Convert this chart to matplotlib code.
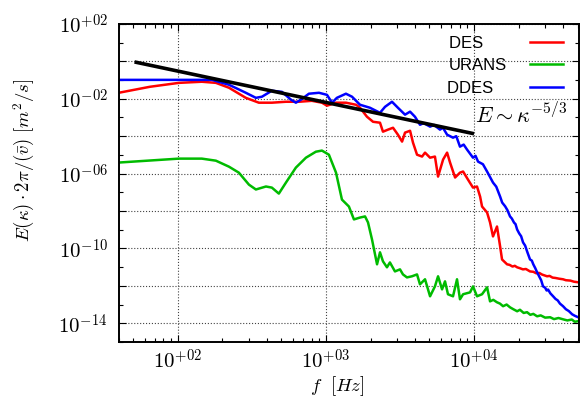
import numpy as np
import matplotlib
matplotlib.use("Agg")
import matplotlib.pyplot as plt
from matplotlib.ticker import FixedLocator, NullFormatter, FuncFormatter, LogLocator

plt.rcParams['mathtext.fontset'] = 'cm'

# ---- data (log10 f [Hz], log10 E) ----
log_f_ddes = [1.601, 2.230, 2.345, 2.459, 2.527, 2.568, 2.635, 2.703, 2.764, 2.797,
              2.831, 2.885, 2.953, 3.007, 3.041, 3.074, 3.135, 3.176, 3.230, 3.297,
              3.365, 3.399, 3.446, 3.486, 3.534, 3.568, 3.601, 3.635, 3.660, 3.703,
              3.730, 3.770, 3.790, 3.818, 3.858, 3.880, 3.905, 3.930, 3.953, 3.993,
              4.010, 4.027, 4.060, 4.088, 4.128, 4.150, 4.176, 4.190, 4.210, 4.225,
              4.243, 4.255, 4.270, 4.280, 4.291, 4.305, 4.318, 4.331, 4.345, 4.360,
              4.378, 4.390, 4.400, 4.413, 4.426, 4.440, 4.453, 4.466, 4.480, 4.490,
              4.500, 4.515, 4.534, 4.550, 4.565, 4.580, 4.601, 4.620, 4.640, 4.662,
              4.680, 4.703]
log_E_ddes = [-0.99, -0.99, -1.25, -1.68, -1.95, -1.89, -1.57, -1.63, -2.05, -2.21,
              -2.05, -1.73, -1.68, -1.79, -2.21, -1.95, -1.73, -1.89, -2.32, -2.48,
              -2.75, -2.43, -2.16, -2.48, -2.85, -2.69, -2.96, -3.39, -3.30, -3.49,
              -3.40, -3.65, -3.55, -3.92, -4.08, -4.00, -4.56, -4.45, -4.72, -5.15,
              -5.05, -5.36, -5.50, -5.89, -6.48, -6.70, -7.23, -7.55, -7.75, -7.95,
              -8.29, -8.40, -8.62, -8.70, -8.99, -9.20, -9.35, -9.68, -9.85, -10.20,
              -10.59, -10.65, -10.85, -11.05, -11.28, -11.50, -11.70, -12.03, -12.10, -12.25,
              -12.20, -12.40, -12.56, -12.70, -12.78, -12.95, -13.09, -13.25, -13.35, -13.52,
              -13.60, -13.68]

log_f_des = [1.601, 1.811, 2.007, 2.162, 2.257, 2.345, 2.459, 2.547, 2.635, 2.730,
             2.818, 2.905, 2.973, 3.007, 3.068, 3.135, 3.203, 3.230, 3.277, 3.318,
             3.365, 3.385, 3.419, 3.453, 3.486, 3.514, 3.534, 3.568, 3.588, 3.615,
             3.649, 3.669, 3.703, 3.736, 3.757, 3.791, 3.818, 3.838, 3.872, 3.905,
             3.926, 3.959, 3.993, 4.020, 4.041, 4.054, 4.088, 4.108, 4.128, 4.155,
             4.176, 4.189, 4.223, 4.240, 4.260, 4.275, 4.291, 4.310, 4.330, 4.350,
             4.378, 4.400, 4.420, 4.440, 4.460, 4.493, 4.510, 4.530, 4.550, 4.575,
             4.601, 4.620, 4.650, 4.675, 4.703]
log_E_des = [-1.68, -1.36, -1.15, -1.09, -1.15, -1.41, -1.95, -2.21, -2.21, -2.16,
             -2.16, -2.11, -2.21, -2.37, -2.21, -2.21, -2.32, -2.48, -2.96, -3.23,
             -3.28, -3.76, -3.65, -3.55, -3.92, -4.29, -3.81, -3.71, -4.35, -4.99,
             -5.09, -4.88, -5.15, -5.09, -6.16, -5.25, -4.88, -5.41, -6.21, -5.95,
             -5.89, -6.32, -6.75, -6.69, -7.23, -7.76, -8.08, -8.61, -9.36, -8.83,
             -9.89, -10.59, -10.85, -10.88, -10.97, -10.93, -11.01, -11.06, -11.12, -11.10,
             -11.23, -11.25, -11.33, -11.31, -11.40, -11.49, -11.47, -11.56, -11.58, -11.62,
             -11.65, -11.70, -11.72, -11.78, -11.81]

log_f_urans = [1.601, 2.007, 2.162, 2.257, 2.345, 2.412, 2.480, 2.527, 2.595, 2.635,
               2.682, 2.730, 2.797, 2.865, 2.932, 2.973, 3.020, 3.068, 3.108, 3.155,
               3.189, 3.230, 3.264, 3.284, 3.311, 3.345, 3.365, 3.385, 3.412, 3.432,
               3.466, 3.500, 3.520, 3.547, 3.581, 3.615, 3.635, 3.669, 3.703, 3.736,
               3.757, 3.784, 3.804, 3.824, 3.858, 3.885, 3.905, 3.926, 3.973, 3.993,
               4.020, 4.054, 4.088, 4.108, 4.130, 4.155, 4.175, 4.196, 4.220, 4.243,
               4.265, 4.291, 4.310, 4.335, 4.358, 4.380, 4.400, 4.426, 4.450, 4.480,
               4.514, 4.540, 4.570, 4.601, 4.630, 4.660, 4.680, 4.703]
log_E_urans = [-5.41, -5.20, -5.20, -5.31, -5.63, -5.95, -6.59, -6.85, -6.69, -6.75,
               -7.07, -6.48, -5.68, -5.15, -4.83, -4.77, -4.99, -5.95, -7.39, -7.76,
               -8.45, -8.35, -8.29, -8.61, -9.52, -10.85, -10.21, -10.69, -11.01, -10.75,
               -11.23, -11.12, -11.39, -11.55, -11.49, -11.39, -11.92, -11.65, -12.56, -12.03,
               -11.49, -12.19, -11.76, -12.45, -12.56, -11.65, -12.72, -12.45, -12.35, -12.03,
               -12.56, -12.45, -12.08, -12.83, -12.75, -12.88, -12.95, -13.09, -13.00, -13.15,
               -13.25, -13.36, -13.28, -13.45, -13.41, -13.55, -13.50, -13.63, -13.58, -13.70,
               -13.68, -13.78, -13.72, -13.79, -13.85, -13.80, -13.92, -13.89]

# reference slope line E ~ kappa^(-5/3): endpoints
ref_f = [51.0, 1.0e4]
ref_E = [0.93, 1.35e-4]

series_labels = ['DES', 'URANS', 'DDES']
x_ticks = [1e2, 1e3, 1e4]
y_label_ticks = [1e-14, 1e-10, 1e-6, 1e-2, 1e2]
y_grid_ticks = [1e-14, 1e-12, 1e-10, 1e-8, 1e-6, 1e-4, 1e-2, 1e0, 1e2]
y_minor_ticks = [1e-15, 1e-13, 1e-11, 1e-9, 1e-7, 1e-5, 1e-3, 1e-1, 1e1]

fig = plt.figure(figsize=(5.8, 3.99), dpi=100)
ax = fig.add_axes([0.205, 0.143, 0.793, 0.797])

lw = 1.8
l1, = ax.plot(10 ** np.array(log_f_des), 10 ** np.array(log_E_des), color='#ff0000', lw=lw)
l2, = ax.plot(10 ** np.array(log_f_urans), 10 ** np.array(log_E_urans), color='#00bb00', lw=lw)
l3, = ax.plot(10 ** np.array(log_f_ddes), 10 ** np.array(log_E_ddes), color='#0000ff', lw=lw)
ax.plot(ref_f, ref_E, color='black', lw=2.6, solid_capstyle='butt')

ax.set_xscale('log')
ax.set_yscale('log')
ax.set_xlim(40, 51000)
ax.set_ylim(1e-15, 1e2)

def fmt(v, pos):
    e = int(round(np.log10(v)))
    s = '+' if e >= 0 else '-'
    return r'$10^{%s%02d}$' % (s, abs(e))

def yfmt(v, pos):
    if any(abs(np.log10(v) - np.log10(t)) < 1e-6 for t in y_label_ticks):
        return fmt(v, pos)
    return ''

ax.xaxis.set_major_locator(FixedLocator(x_ticks))
ax.xaxis.set_major_formatter(FuncFormatter(fmt))
ax.xaxis.set_minor_locator(LogLocator(base=10, subs=np.arange(2, 10), numticks=20))
ax.xaxis.set_minor_formatter(NullFormatter())

ax.yaxis.set_major_locator(FixedLocator(y_grid_ticks))
ax.yaxis.set_major_formatter(FuncFormatter(yfmt))
ax.yaxis.set_minor_locator(FixedLocator(y_minor_ticks))
ax.yaxis.set_minor_formatter(NullFormatter())

ax.tick_params(which='both', direction='in', top=True, right=True, labelsize=15)
ax.tick_params(which='major', length=5, width=0.8)
ax.tick_params(which='minor', length=3, width=0.8)
ax.tick_params(axis='x', which='major', pad=5)
ax.tick_params(axis='y', which='major', pad=8)

ax.grid(True, which='major', linestyle=':', color='#444444', lw=0.8)
for s in ax.spines.values():
    s.set_linewidth(1.4)

ax.set_xlabel(r'$f\ \ [Hz]$', fontsize=13.5)
ax.xaxis.set_label_coords(0.474, -0.103)
ax.set_ylabel(r'$E(\kappa)\cdot 2\pi/(\bar{v})\ [m^2/s]$', fontsize=13.5)
ax.yaxis.set_label_coords(-0.178, 0.57)

# legend: labels left-ish, key lines on the right (trailing spaces emulate the original layout)
padded = ['DES     ', 'URANS', 'DDES   ']
leg = ax.legend(handles=[l1, l2, l3], labels=padded, loc='upper right', frameon=False,
                markerfirst=False, prop={'family': 'Liberation Sans', 'size': 12},
                handlelength=1.95, labelspacing=0.45, borderaxespad=0.3,
                handletextpad=1.4, bbox_to_anchor=(0.99, 1.0))

ax.text(0.774, 0.689, r'$E\sim\kappa^{-5/3}$', transform=ax.transAxes, fontsize=16,
        va='baseline', ha='left')

fig.savefig('out.png', dpi=100)
